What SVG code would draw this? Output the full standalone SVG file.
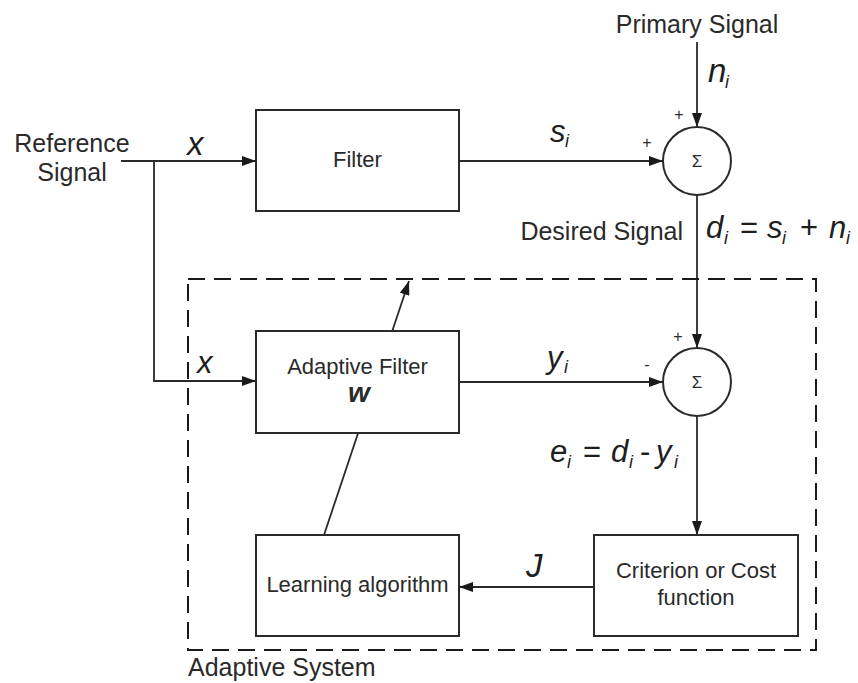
<svg xmlns="http://www.w3.org/2000/svg" width="858" height="683" viewBox="0 0 858 683">
  <style>
    .box { fill: #ffffff; stroke: #2a2a2a; stroke-width: 2; }
    .sum { fill: #ffffff; stroke: #2a2a2a; stroke-width: 2; }
    .wire { fill: none; stroke: #2a2a2a; stroke-width: 1.8; }
    .frame { fill: none; stroke: #1a1a1a; stroke-width: 2; stroke-dasharray: 17 9; }
    .lbl { font-family: "Liberation Sans", Arial, sans-serif; font-size: 25px; fill: #2a2a2a; }
    .blk { font-family: "Liberation Sans", Arial, sans-serif; font-size: 22px; fill: #2a2a2a; text-anchor: middle; }
    .sig { font-family: "Liberation Sans", Arial, sans-serif; font-size: 17px; fill: #2a2a2a; text-anchor: middle; }
    .pm { font-family: "Liberation Sans", Arial, sans-serif; font-size: 16px; fill: #2a2a2a; text-anchor: middle; }
    .m { font-family: "Liberation Sans", Arial, sans-serif; font-style: italic; font-size: 31px; fill: #1e1e1e; }
    .mb { font-family: "Liberation Sans", Arial, sans-serif; font-style: italic; font-size: 33px; fill: #1e1e1e; }
    .s { font-family: "Liberation Sans", Arial, sans-serif; font-style: italic; font-size: 18px; fill: #1e1e1e; }
    .op { font-family: "Liberation Sans", Arial, sans-serif; font-size: 31px; fill: #1e1e1e; }
  </style>
  <defs>
    <marker id="arrow" viewBox="0 0 14 10" refX="14" refY="5" markerWidth="14" markerHeight="10" markerUnits="userSpaceOnUse" orient="auto">
      <path d="M0,0 L14,5 L0,10 Z" fill="#1a1a1a"/>
    </marker>
  </defs>

  <rect width="858" height="683" fill="#ffffff"/>

  <!-- signal paths -->
  <g id="connectors">
    <line class="wire" x1="121" y1="161" x2="256" y2="161" marker-end="url(#arrow)"/>
    <polyline class="wire" points="154,161 154,381 256,381" marker-end="url(#arrow)"/>
    <line class="wire" x1="459" y1="161" x2="663" y2="161" marker-end="url(#arrow)"/>
    <line class="wire" x1="697" y1="42" x2="697" y2="127" marker-end="url(#arrow)"/>
    <line class="wire" x1="697" y1="195" x2="697" y2="348" marker-end="url(#arrow)"/>
    <line class="wire" x1="459" y1="382" x2="663" y2="382" marker-end="url(#arrow)"/>
    <line class="wire" x1="697" y1="416" x2="697" y2="535" marker-end="url(#arrow)"/>
    <line class="wire" x1="594" y1="587" x2="459" y2="587" marker-end="url(#arrow)"/>
    <!-- weight update: runs under the adaptive filter block -->
    <line class="wire" x1="324" y1="535" x2="409" y2="281" marker-end="url(#arrow)"/>
  </g>

  <g id="adaptive-system">
    <rect class="frame" x="188" y="279" width="628" height="371"/>
    <text class="lbl" x="188" y="676">Adaptive System</text>
  </g>

  <g id="reference-signal">
    <text class="lbl" x="72" y="152" text-anchor="middle">Reference</text>
    <text class="lbl" x="72" y="181" text-anchor="middle">Signal</text>
  </g>

  <g id="primary-signal">
    <text class="lbl" x="697" y="33" text-anchor="middle">Primary Signal</text>
  </g>

  <g id="filter">
    <rect class="box" x="256" y="110" width="203" height="101"/>
    <text class="blk" x="357.5" y="167">Filter</text>
  </g>

  <g id="adaptive-filter">
    <rect class="box" x="256" y="331" width="203" height="102"/>
    <text class="blk" x="357.5" y="374">Adaptive Filter</text>
    <text class="blk" x="359" y="402" style="font-weight:bold;font-style:italic;font-size:28px">w</text>
  </g>

  <g id="learning-algorithm">
    <rect class="box" x="256" y="535" width="203" height="101"/>
    <text class="blk" x="357.5" y="592">Learning algorithm</text>
  </g>

  <g id="criterion">
    <rect class="box" x="594" y="535" width="204" height="101"/>
    <text class="blk" x="696" y="578">Criterion or Cost</text>
    <text class="blk" x="696" y="605">function</text>
  </g>

  <g id="sum-desired">
    <circle class="sum" cx="697" cy="161" r="34"/>
    <text class="sig" x="697" y="167">Σ</text>
    <text class="pm" x="679" y="120">+</text>
    <text class="pm" x="647" y="148">+</text>
  </g>

  <g id="sum-error">
    <circle class="sum" cx="697" cy="382" r="34"/>
    <text class="sig" x="697" y="388">Σ</text>
    <text class="pm" x="678" y="342">+</text>
    <text class="pm" x="647" y="370">-</text>
  </g>

  <g id="labels">
    <text class="mb" x="187" y="155">x</text>
    <text class="m" x="197" y="373">x</text>
    <text class="m" x="550" y="142">s</text><text class="s" x="565" y="147">i</text>
    <text class="mb" x="708" y="82">n</text><text class="s" x="725" y="88">i</text>
    <text class="lbl" x="683" y="240" text-anchor="end">Desired Signal</text>
    <text class="m" x="706" y="238">d</text><text class="s" x="724" y="244">i</text>
    <text class="op" x="740" y="238">=</text>
    <text class="m" x="767" y="238">s</text><text class="s" x="782" y="244">i</text>
    <text class="op" x="800" y="238">+</text>
    <text class="m" x="829" y="238">n</text><text class="s" x="846" y="244">i</text>
    <text class="m" x="547" y="368">y</text><text class="s" x="564" y="373">i</text>
    <text class="m" x="550" y="462">e</text><text class="s" x="567" y="468">i</text>
    <text class="op" x="583" y="462">=</text>
    <text class="m" x="611" y="462">d</text><text class="s" x="629" y="468">i</text>
    <text class="op" x="640" y="462">-</text>
    <text class="m" x="656" y="462">y</text><text class="s" x="674" y="468">i</text>
    <text class="mb" x="526" y="577">J</text>
  </g>
</svg>
